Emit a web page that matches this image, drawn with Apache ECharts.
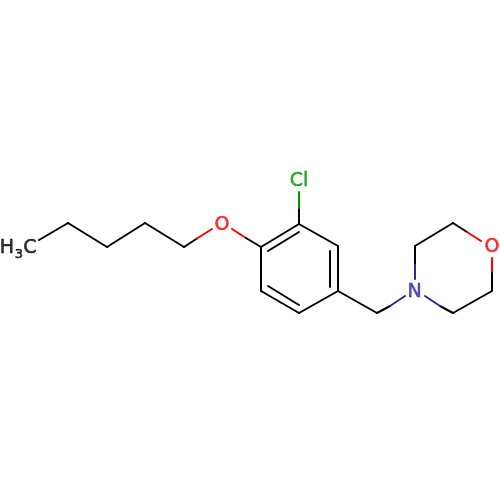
<!DOCTYPE html>
<html>
<head>
<meta charset="utf-8">
<style>html,body{margin:0;padding:0;background:#fff}#c{width:500px;height:500px}</style>
<script src="https://cdn.jsdelivr.net/npm/echarts@6/dist/echarts.min.js"></script>
</head>
<body>
<div id="c"></div>
<script>
const BLACK = '#000000', RED = '#FF0000', GREEN = '#009900', BLUE = '#2A2A9C';
// bond segments: x1, y1, x2, y2, colour
const chainBonds = [
  [39,240,68,223,BLACK],[68,223,107,247,BLACK],[107,247,145,223,BLACK],
  [145,223,184,247,BLACK],[184,247,197,238.5,BLACK],[197,238.5,212,229,RED],
  [232,229,246,238,RED],[246,238,261,247,BLACK]
];
const ringBonds = [
  [261,247,299,224,BLACK],[299,224,338,246,BLACK],[338,246,338,291,BLACK],
  [338,291,299,313,BLACK],[299,313,261,291,BLACK],[261,291,261,247,BLACK],
  [268,251,299,232,BLACK],[330,251,330,287,BLACK],[268,286,299,305,BLACK]
];
const chloroBonds = [[299,224,299,208,BLACK],[299,208,299,192,GREEN]];
const linkerBonds = [[338,291,377,313,BLACK],[377,313,390,306,BLACK],[390,306,405,296,BLUE]];
const morpholineBonds = [
  [415,279,415,263,BLUE],[415,263,415,246,BLACK],[415,246,453,223,BLACK],
  [453,223,467,232,BLACK],[467,232,481,241,RED],[492,258,492,273,RED],
  [492,273,492,291,BLACK],[492,291,453,313,BLACK],[453,313,440,306,BLACK],[440,306,425,296,BLUE]
];
const atomLabels = [
  {x:222,y:225,text:'O',color:RED,size:19},
  {x:299,y:181,text:'Cl',color:GREEN,size:19},
  {x:414.5,y:292.5,text:'N',color:BLUE,size:19},
  {x:492,y:247.5,text:'O',color:RED,size:19},
  {x:7,y:248,text:'H',color:BLACK,size:19},
  {x:19,y:254.5,text:'3',color:BLACK,size:13},
  {x:30,y:248,text:'C',color:BLACK,size:19}
];
const allBonds = [].concat(chainBonds, ringBonds, chloroBonds, linkerBonds, morpholineBonds);
const FONT = 'DejaVu Sans';
const chart = echarts.init(document.getElementById('c'), null, {renderer:'canvas'});
chart.setOption({
  animation:false,
  backgroundColor:'#fff',
  grid:{left:0,right:0,top:0,bottom:0},
  xAxis:{type:'value',min:0,max:500,show:false},
  yAxis:{type:'value',min:0,max:500,inverse:true,show:false},
  series:[
    {type:'lines',coordinateSystem:'cartesian2d',polyline:false,silent:true,
     data:allBonds.map(b=>({coords:[[b[0],b[1]],[b[2],b[3]]],lineStyle:{color:b[4],width:2,opacity:1,cap:'round'}}))},
    {type:'scatter',symbolSize:0,silent:true,
     data:atomLabels.map(a=>({value:[a.x,a.y],label:{
       show:true,position:'inside',formatter:a.text,color:a.color,fontFamily:FONT,fontSize:a.size,
       textBorderColor:a.color,textBorderWidth:0.6
     }}))}
  ]
});
</script>
</body>
</html>
